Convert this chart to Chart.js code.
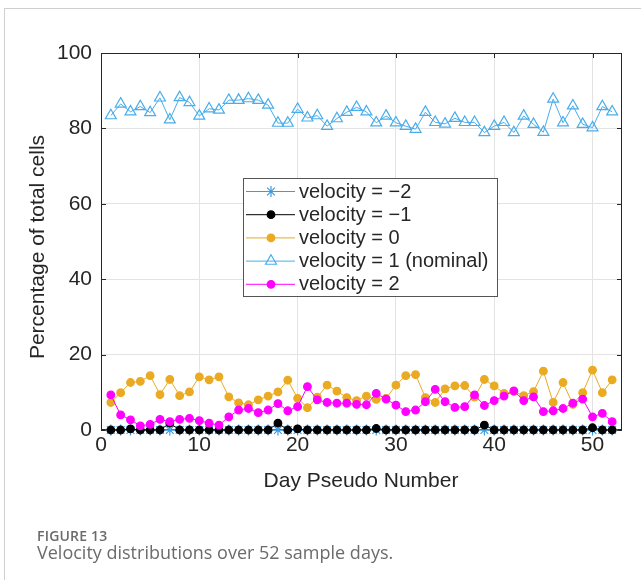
<!DOCTYPE html>
<html>
<head>
<meta charset="utf-8">
<script src="https://cdn.jsdelivr.net/npm/chart.js@4"></script>
<style>
  html, body { margin: 0; padding: 0; background: #fff; }
  #wrap { position: relative; width: 641px; height: 580px; overflow: hidden; }
  #frame { position: absolute; left: 4px; top: 8px; width: 700px; height: 600px;
           border-left: 1px solid #cfcfcf; border-top: 1px solid #cfcfcf; }
  canvas { position: absolute; left: 0; top: 0; }
  .cap1 { position: absolute; left: 37px; top: 526px; font: 600 14px "Open Sans", sans-serif;
          color: #6b6b6b; letter-spacing: 0.2px; }
  .cap2 { position: absolute; left: 37px; top: 540px; font: 18px "Open Sans", sans-serif;
          color: #6b6b6b; }
</style>
</head>
<body>
<div id="wrap">
  <div id="frame"></div>
  <canvas id="c" width="641" height="580"></canvas>
  <div class="cap1">FIGURE 13</div>
  <div class="cap2">Velocity distributions over 52 sample days.</div>
</div>
<script>
// Day numbers on the x axis
const days = [1,2,3,4,5,6,7,8,9,10,11,12,13,14,15,16,17,18,19,20,21,22,23,24,25,26,
              27,28,29,30,31,32,33,34,35,36,37,38,39,40,41,42,43,44,45,46,47,48,49,50,51,52];

// Percentage of cells per velocity class
const velMinus2 = [0,0,0,0,0,0,0,0,0,0,0,0,0,0,0,0,0,0,0,0,0,0,0,0,0,0,
                   0,0,0,0,0,0,0,0,0,0,0,0,0,0,0,0,0,0,0,0,0,0,0,0,0,0];
const velMinus1 = [0,0,0.3,0,0,0,1.8,0,0,0,0,0,0,0,0,0,0,1.8,0,0.3,0,0,0,0,0,0,
                   0,0.4,0,0,0,0,0,0,0,0,0,0,1.3,0,0,0,0,0,0,0,0,0,0,0.6,0,0];
const velZero   = [7.3,9.9,12.6,12.9,14.4,9.4,13.4,9.1,10.1,14.1,13.3,14.1,8.8,7.2,6.7,8.0,9.0,10.1,13.2,8.4,5.9,8.7,11.9,10.3,8.6,7.8,
                   9.0,8.1,8.4,11.9,14.4,14.7,8.6,7.3,10.9,11.7,11.8,8.7,13.4,11.7,9.7,10.2,9.1,10.2,15.6,7.3,12.6,6.8,9.9,15.9,9.9,13.3];
const velOne    = [83.4,86.5,84.4,85.8,84.2,88.1,82.3,88.2,86.9,83.3,85.2,84.9,87.5,87.5,87.9,87.5,86.2,81.4,81.4,85.1,82.8,83.4,80.6,82.6,84.3,85.6,
                   84.4,81.5,83.3,81.5,80.6,79.8,84.3,81.6,81.2,82.7,81.6,81.6,78.9,80.6,81.6,78.9,83.3,81.1,79.0,87.8,81.5,86.0,81.1,80.2,85.8,84.4];
const velTwo    = [9.3,4.0,2.7,1.1,1.5,2.8,2.2,2.8,3.1,2.5,1.8,1.3,3.5,5.3,5.7,4.6,5.3,7.0,5.1,6.2,11.5,8.0,7.3,7.1,7.1,6.8,
                   6.7,9.7,8.2,6.6,4.9,5.3,7.5,10.8,7.5,6.0,6.2,9.3,6.5,7.8,9.0,10.4,7.8,8.8,4.9,5.1,5.7,7.1,8.2,3.5,4.4,2.2];

const seriesLabels = ['velocity = \u22122', 'velocity = \u22121', 'velocity = 0', 'velocity = 1 (nominal)', 'velocity = 2'];
const xTickVals = [0, 10, 20, 30, 40, 50];
const yTickVals = [0, 20, 40, 60, 80, 100];

const FONT = '"Liberation Sans", Arial, sans-serif';
const TXT = '#262626';

function pts(vals) {
    return vals.map((v, i) => ({ x: days[i], y: v }));
}

const styles = [
    { color: '#3d9be0', pointStyle: 'star',     radius: 5.5, fill: 'rgba(0,0,0,0)', order: 5 },
    { color: '#000000', pointStyle: 'circle',   radius: 3.8, fill: '#000000',       order: 4 },
    { color: '#eaaa22', pointStyle: 'circle',   radius: 3.8, fill: '#eaaa22',       order: 3 },
    { color: '#48adeb', pointStyle: 'triangle', radius: 6.3, fill: 'rgba(0,0,0,0)', order: 2 },
    { color: '#ff00ff', pointStyle: 'circle',   radius: 3.8, fill: '#ff00ff',       order: 1 }
];
const seriesVals = [velMinus2, velMinus1, velZero, velOne, velTwo];

const datasets = seriesVals.map((vals, i) => ({
    label: seriesLabels[i],
    data: pts(vals),
    borderColor: styles[i].color,
    backgroundColor: styles[i].fill,
    pointBorderColor: styles[i].color,
    pointBackgroundColor: styles[i].fill,
    borderWidth: 1,
    pointBorderWidth: 1.2,
    pointStyle: styles[i].pointStyle,
    pointRadius: styles[i].radius,
    tension: 0,
    clip: false,
    order: styles[i].order
}));

// box, inward ticks and axis titles
const framePlugin = {
    id: 'frame',
    beforeDatasetsDraw(chart) {
        const { ctx, chartArea: a, scales } = chart;
        ctx.save();
        ctx.strokeStyle = '#262626';
        ctx.lineWidth = 1;
        ctx.strokeRect(a.left + 0.5, a.top + 0.5, a.right - a.left - 1, a.bottom - a.top - 1);
        ctx.beginPath();
        yTickVals.forEach(v => {
            const y = Math.round(scales.y.getPixelForValue(v)) + 0.5;
            ctx.moveTo(a.left, y); ctx.lineTo(a.left + 5, y);
            ctx.moveTo(a.right, y); ctx.lineTo(a.right - 5, y);
        });
        xTickVals.forEach(v => {
            const x = Math.round(scales.x.getPixelForValue(v)) + 0.5;
            ctx.moveTo(x, a.bottom); ctx.lineTo(x, a.bottom - 5);
            ctx.moveTo(x, a.top); ctx.lineTo(x, a.top + 5);
        });
        ctx.stroke();
        ctx.restore();
    },
    afterDraw(chart) {
        const { ctx } = chart;
        ctx.save();
        ctx.fillStyle = TXT;
        ctx.font = '21px ' + FONT;
        ctx.textAlign = 'center';
        ctx.textBaseline = 'middle';
        ctx.fillText('Day Pseudo Number', 361, 481);
        ctx.translate(38, 247);
        ctx.rotate(-Math.PI / 2);
        ctx.fillText('Percentage of total cells', 0, 0);
        ctx.restore();

        // legend box
        const lx = 243, ly = 178, lw = 254, lh = 118, rowH = 23.2;
        ctx.save();
        ctx.fillStyle = '#ffffff';
        ctx.fillRect(lx, ly, lw, lh);
        ctx.strokeStyle = '#555';
        ctx.lineWidth = 1;
        ctx.strokeRect(lx + 0.5, ly + 0.5, lw, lh);
        seriesLabels.forEach((lab, i) => {
            const y = ly + 13 + i * rowH;
            const st = styles[i];
            ctx.strokeStyle = st.color;
            ctx.lineWidth = 1;
            ctx.beginPath();
            ctx.moveTo(lx + 3, y + 0.5);
            ctx.lineTo(lx + 52, y + 0.5);
            ctx.stroke();
            ctx.fillStyle = st.fill;
            ctx.lineWidth = 1.2;
            Chart.helpers.drawPoint(ctx, { pointStyle: st.pointStyle, radius: st.radius, borderWidth: 1.2, rotation: 0 }, lx + 28, y + 0.5);
            ctx.fillStyle = TXT;
            ctx.font = '20px ' + FONT;
            ctx.textAlign = 'left';
            ctx.textBaseline = 'middle';
            ctx.fillText(lab, lx + 56, y + 1);
        });
        ctx.restore();
    }
};

new Chart(document.getElementById('c'), {
    type: 'line',
    data: { datasets },
    options: {
        responsive: false,
        devicePixelRatio: 1,
        animation: false,
        layout: { padding: { left: 0, top: 53, right: 19, bottom: 110 } },
        scales: {
            x: {
                type: 'linear',
                min: 0,
                max: 53,
                afterBuildTicks: s => { s.ticks = xTickVals.map(v => ({ value: v })); },
                afterFit: s => { s.height = 40; },
                grid: { color: '#e3e3e3', drawTicks: false },
                border: { display: false },
                ticks: { color: TXT, font: { family: FONT, size: 21 }, padding: 3, maxRotation: 0 }
            },
            y: {
                min: 0,
                max: 100,
                afterBuildTicks: s => { s.ticks = yTickVals.map(v => ({ value: v })); },
                afterFit: s => { s.width = 101; },
                grid: { color: '#e3e3e3', drawTicks: false },
                border: { display: false },
                ticks: { color: TXT, font: { family: FONT, size: 21 }, padding: 9 }
            }
        },
        plugins: {
            legend: { display: false },
            tooltip: { enabled: false }
        }
    },
    plugins: [framePlugin]
});
</script>
</body>
</html>
